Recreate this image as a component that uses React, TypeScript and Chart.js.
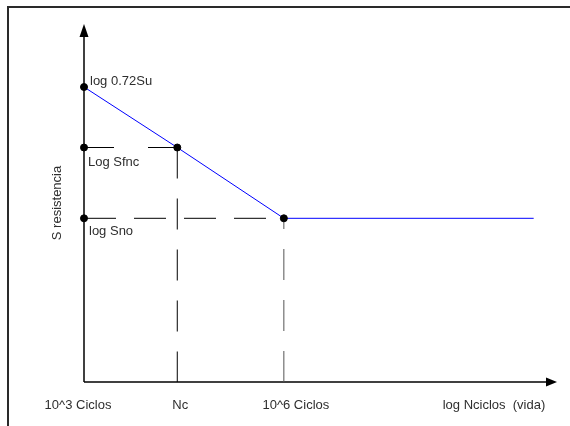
import React, { useEffect, useRef } from "react";
import { Chart, registerables } from "chart.js";
Chart.register(...registerables);

// log N (cycles) positions of the marked points
const xTickValues = [3, 4.4, 6];
const xTickLabels = ["10^3 Ciclos", "Nc", "10^6 Ciclos"];
// S-N curve (log N, log S)
const curveLogN = [3, 4.4, 6, 9.75];
const curveLogS = [2.95, 2.345, 1.637, 1.637];
const levelLabels = ["log 0.72Su", "Log Sfnc", "log Sno"];
const xTitle = "log Nciclos  (vida)";
const yTitle = "S resistencia";
const xRange = [3, 10.1];
const yRange = [0, 3.58];

const FONT = '13px "Liberation Sans", Arial, sans-serif';
const TEXT = "#2e2e2e";

const diagramPlugin = {
  id: "diagram",
  beforeDraw(chart: any) {
    const ctx = chart.ctx;
    ctx.save();
    ctx.fillStyle = "#ffffff";
    ctx.fillRect(0, 0, chart.width, chart.height);
    ctx.fillStyle = "#2a2a2a";
    ctx.fillRect(7, 6, chart.width - 7, 2);
    ctx.fillRect(7, 6, 2, chart.height - 6);
    ctx.restore();
  },
  beforeDatasetsDraw(chart: any) {
    const ctx = chart.ctx;
    const { left, right, top, bottom } = chart.chartArea;
    ctx.save();
    ctx.strokeStyle = "#000";
    ctx.fillStyle = "#000";
    ctx.lineWidth = 1.5;
    // y axis
    ctx.beginPath();
    ctx.moveTo(left, bottom);
    ctx.lineTo(left, top + 12);
    ctx.stroke();
    ctx.beginPath();
    ctx.moveTo(left, top);
    ctx.lineTo(left - 4.5, top + 13);
    ctx.lineTo(left + 4.5, top + 13);
    ctx.closePath();
    ctx.fill();
    // x axis
    ctx.beginPath();
    ctx.moveTo(left, bottom);
    ctx.lineTo(right - 10, bottom);
    ctx.stroke();
    ctx.beginPath();
    ctx.moveTo(right, bottom);
    ctx.lineTo(right - 11, bottom - 4.5);
    ctx.lineTo(right - 11, bottom + 4.5);
    ctx.closePath();
    ctx.fill();
    ctx.restore();
  },
  afterDraw(chart: any) {
    const ctx = chart.ctx;
    const xs = chart.scales.x;
    const ys = chart.scales.y;
    const { right, top, bottom } = chart.chartArea;
    ctx.save();
    ctx.font = FONT;
    ctx.fillStyle = TEXT;
    ctx.textBaseline = "middle";
    // level labels next to the y axis
    const lx = [6, 4, 5];
    const ly = [-5.5, 14.5, 13.5];
    levelLabels.forEach((t, i) => {
      ctx.textAlign = "left";
      ctx.fillText(t, xs.getPixelForValue(xTickValues[0]) + lx[i], ys.getPixelForValue(curveLogS[i]) + ly[i]);
    });
    // x tick labels
    const tx = [-6, 3, 12];
    xTickLabels.forEach((t, i) => {
      ctx.textAlign = "center";
      ctx.fillText(t, xs.getPixelForValue(xTickValues[i]) + tx[i], bottom + 23);
    });
    ctx.textAlign = "center";
    ctx.fillText(xTitle, right - 63, bottom + 23);
    // y title
    ctx.translate(57.5, (top + bottom) / 2);
    ctx.rotate(-Math.PI / 2);
    ctx.fillText(yTitle, 0, 0);
    ctx.restore();
  },
};

export default function App() {
  const ref = useRef<HTMLCanvasElement>(null);
  useEffect(() => {
    if (!ref.current) return;
    const pt = (x: number, y: number) => ({ x, y });
    const chart = new Chart(ref.current, {
      type: "scatter",
      data: {
        datasets: [
          {
            data: curveLogN.map((x, i) => pt(x, curveLogS[i])),
            showLine: true,
            borderColor: "#0000ff",
            borderWidth: 1,
            pointRadius: [3.5, 3.5, 3.5, 0],
            pointBackgroundColor: "#000",
            pointBorderColor: "#000",
            pointBorderWidth: 1,
            clip: false,
          },
          {
            data: [pt(xTickValues[0], curveLogS[1]), pt(xTickValues[1], curveLogS[1])],
            showLine: true,
            borderColor: "#000",
            borderWidth: 1,
            borderDash: [30, 34],
            pointRadius: [3.5, 0],
            pointBackgroundColor: "#000",
            pointBorderColor: "#000",
            clip: false,
          },
          {
            data: [pt(xTickValues[0], curveLogS[2]), pt(xTickValues[2], curveLogS[2])],
            showLine: true,
            borderColor: "#000",
            borderWidth: 1,
            borderDash: [32, 18],
            pointRadius: [3.5, 0],
            pointBackgroundColor: "#000",
            pointBorderColor: "#000",
            clip: false,
          },
          {
            data: [pt(xTickValues[1], curveLogS[1]), pt(xTickValues[1], yRange[0])],
            showLine: true,
            borderColor: "#000",
            borderWidth: 1,
            borderDash: [31, 20],
            pointRadius: 0,
            clip: false,
          },
          {
            data: [pt(xTickValues[2], yRange[0]), pt(xTickValues[2], curveLogS[2])],
            showLine: true,
            borderColor: "#555",
            borderWidth: 1,
            borderDash: [31, 20],
            pointRadius: 0,
            clip: false,
          },
        ],
      },
      options: {
        animation: false,
        responsive: false,
        devicePixelRatio: 1,
        layout: { padding: { left: 84, right: 13, top: 24, bottom: 44 } },
        scales: {
          x: { type: "linear", display: false, min: xRange[0], max: xRange[1] },
          y: { type: "linear", display: false, min: yRange[0], max: yRange[1] },
        },
        plugins: { legend: { display: false }, tooltip: { enabled: false } },
        elements: { line: { tension: 0 } },
      },
      plugins: [diagramPlugin],
    });
    return () => chart.destroy();
  }, []);
  return (
    <div style={{ position: "fixed", left: 0, top: 0, width: 570, height: 426, background: "#fff" }}>
      <canvas ref={ref} width={570} height={426} style={{ display: "block" }} />
    </div>
  );
}
